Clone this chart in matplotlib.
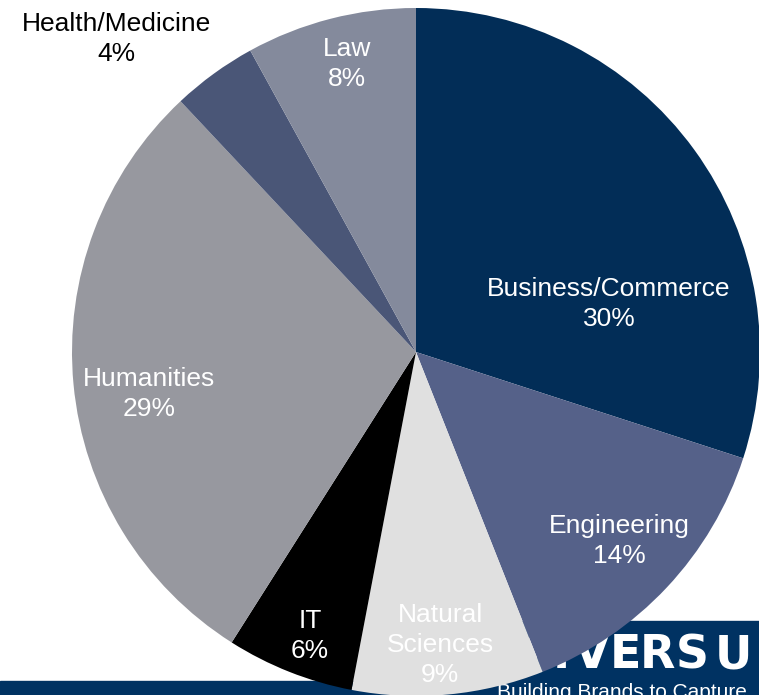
import matplotlib
matplotlib.use("Agg")
import matplotlib.pyplot as plt
from matplotlib.patches import Rectangle, Polygon

# Data
categories = ["Business/Commerce", "Engineering", "Natural\nSciences", "IT",
              "Humanities", "Health/Medicine", "Law"]
shares = [30, 14, 9, 6, 29, 4, 8]
colors = ["#022d57", "#556189", "#e0e0e0", "#000000", "#97989f", "#4a5677", "#848a9c"]
label_colors = ["white", "white", "white", "white", "white", "black", "white"]
# label anchor positions in pixel coords (x, y from top)
label_pos = [(609, 304), (619, 541), (440, 645), (310, 636), (149, 394), (116, 39), (347, 64)]

# logo letters and their centre x positions (pixels)
logo_letters = list("UNIVERSUM")
logo_x = [482, 522, 561, 592, 625, 657, 692, 733, 785]

W, H = 759, 695
fig = plt.figure(figsize=(W / 100, H / 100), dpi=100)
ax = fig.add_axes([0, 0, 1, 1])

navy = "#003262"
# bottom banner (behind the pie)
ax.add_patch(Rectangle((0, 0), W, H - 681, color=navy, zorder=0))
ax.add_patch(Polygon([(470, 0), (470, H - 621), (W, H - 621), (W, 0)], closed=True,
                     color=navy, zorder=0))
for ch, x in zip(logo_letters, logo_x):
    ax.text(x, H - 656, ch, color="white", fontsize=33, fontweight="bold",
            family="DejaVu Sans", ha="center", va="center", zorder=1)
ax.text(497, H - 698, "Building Brands to Capture", color="white", fontsize=15,
        family="Liberation Sans", ha="left", va="baseline", zorder=1)

cx, cy, r = 416, H - 352, 344
ax.pie(shares, colors=colors, startangle=90, counterclock=False, radius=r,
       center=(cx, cy), wedgeprops=dict(linewidth=0), frame=False)

for cat, s, (lx, ly), lc in zip(categories, shares, label_pos, label_colors):
    ax.text(lx, H - ly, f"{cat}\n{s}%", color=lc, fontsize=19, family="Liberation Sans",
            ha="center", va="center", linespacing=1.3, zorder=5)

ax.set_xlim(0, W)
ax.set_ylim(0, H)
ax.set_aspect("equal")
ax.axis("off")
fig.savefig("out.png", dpi=100)
